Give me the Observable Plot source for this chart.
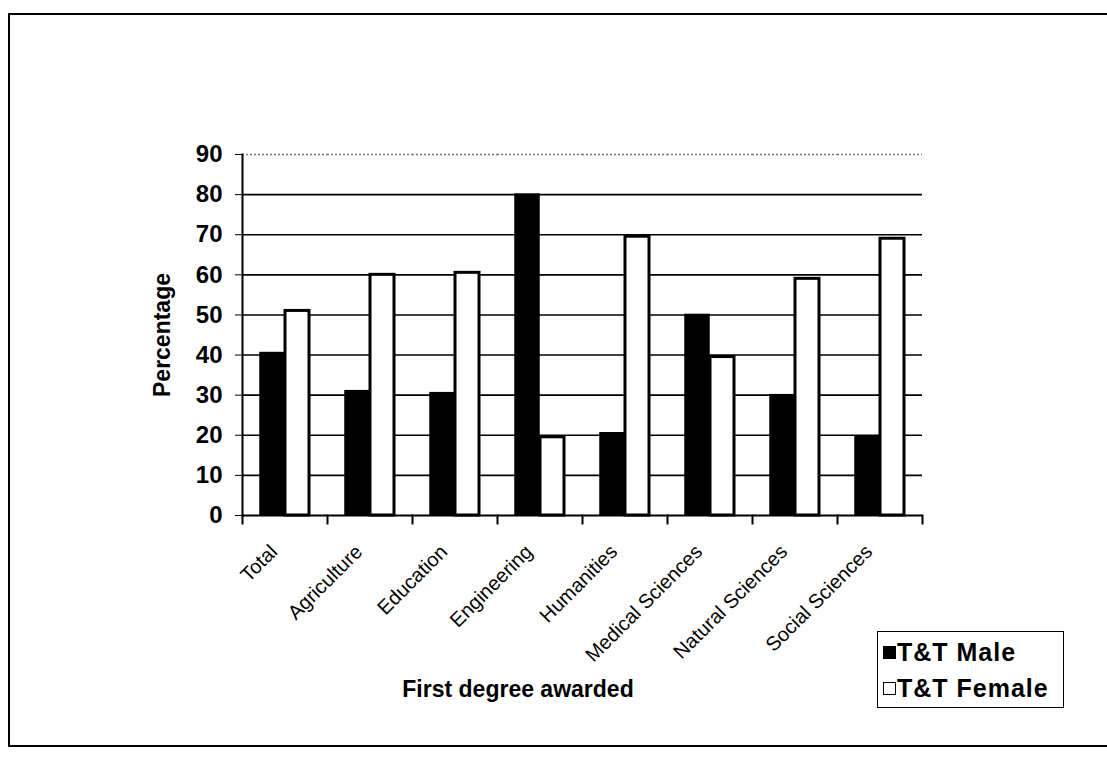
<!DOCTYPE html>
<html>
<head>
<meta charset="utf-8">
<script src="https://cdn.jsdelivr.net/npm/d3@7"></script>
<script src="https://cdn.jsdelivr.net/npm/@observablehq/plot@0.6"></script>
<style>
  html, body { margin: 0; padding: 0; background: #fff; }
  #wrap { position: relative; width: 1107px; height: 760px; overflow: hidden; font-family: "Liberation Sans", Arial, sans-serif; }
  #wrap svg { position: absolute; left: 0; top: 0; }
  .border { position: absolute; background: #000; }
  #xtitle { position: absolute; left: 518px; top: 676px; transform: translateX(-50%); font-weight: bold; font-size: 23px; white-space: nowrap; }
  #legend { position: absolute; left: 877px; top: 631px; width: 185px; height: 75px; border: 1.5px solid #000; background: #fff; }
  .lrow { position: absolute; left: 5px; font-weight: bold; font-size: 25px; line-height: 28px; white-space: nowrap; display: flex; align-items: center; letter-spacing: 1px; }
  .sw { border: 1.5px solid #000; margin-right: 1px; box-sizing: border-box; width: 13px; height: 13px; }
</style>
</head>
<body>
<div id="wrap"></div>
<script>
const categories = ["Total", "Agriculture", "Education", "Engineering", "Humanities", "Medical Sciences", "Natural Sciences", "Social Sciences"];
const series = ["T&T Male", "T&T Female"];
const maleValues = [40.5, 31, 30.5, 80, 20.5, 50, 30, 19.5];
const femaleValues = [51, 60, 60.5, 19.5, 69.5, 39.5, 59, 69];
const yTicks = [0, 10, 20, 30, 40, 50, 60, 70, 80, 90];
const gridLines = [10, 20, 30, 40, 50, 60, 70, 80];
const xTitle = "First degree awarded";
const yTitle = "Percentage";

const data = [];
categories.forEach((c, i) => {
  data.push({category: c, series: series[0], value: maleValues[i]});
  data.push({category: c, series: series[1], value: femaleValues[i]});
});

const font = "'Liberation Sans', Arial, sans-serif";
const plotH = 515 - 154;

const chart = Plot.plot({
  width: 1107,
  height: 760,
  marginLeft: 241,
  marginRight: 185,
  marginTop: 154,
  marginBottom: 245,
  style: {fontFamily: font, background: "transparent", color: "#000"},
  fx: {domain: categories, padding: 0, label: null},
  x: {domain: series, paddingInner: 0.06, paddingOuter: 0.68, axis: null},
  y: {domain: [0, 90], label: null},
  marks: [
    Plot.ruleY(gridLines, {stroke: "#000", strokeWidth: 1.6}),
    Plot.ruleY([90], {stroke: "#777", strokeWidth: 1.4, strokeDasharray: "2,2"}),
    Plot.barY(data.filter(d => d.series === series[0]), {fx: "category", x: "series", y: "value", fill: "#000", stroke: "#000", strokeWidth: 1.5}),
    Plot.barY(data.filter(d => d.series === series[1]), {fx: "category", x: "series", y: "value", fill: "#fff", stroke: "#000", strokeWidth: 3}),
    Plot.ruleY([0], {stroke: "#000", strokeWidth: 2}),
    Plot.frame({anchor: "left", facetAnchor: "left", stroke: "#000", strokeWidth: 2}),
    Plot.frame({anchor: "left", insetTop: plotH, insetBottom: -8, stroke: "#000", strokeWidth: 2}),
    Plot.frame({anchor: "right", facetAnchor: "right", insetTop: plotH, insetBottom: -8, stroke: "#000", strokeWidth: 2}),
    Plot.axisY({
      ticks: yTicks, tickSize: 7, tickPadding: 13, tickFormat: d => d,
      fontSize: 24, fontWeight: "bold",
      label: yTitle, labelAnchor: "center", labelArrow: "none", labelOffset: 89
    }),
    Plot.axisFx({
      anchor: "bottom", tickRotate: -45, tickSize: 0, tickPadding: 33, dx: -11,
      fontSize: 20, label: null
    })
  ]
});

const wrap = document.getElementById("wrap");
wrap.appendChild(chart);
chart.querySelectorAll("g[aria-label='y-axis label'] text").forEach(t => {
  t.setAttribute("font-size", "23");
  t.setAttribute("font-weight", "bold");
});

// outer chart border (top, left, bottom)
function line(l, t, w, h) {
  const d = document.createElement("div");
  d.className = "border";
  Object.assign(d.style, {left: l + "px", top: t + "px", width: w + "px", height: h + "px"});
  wrap.appendChild(d);
}
line(10, 13, 1097, 2);
line(8, 13, 2, 734);
line(8, 745, 1099, 2);

const xt = document.createElement("div");
xt.id = "xtitle";
xt.textContent = xTitle;
wrap.appendChild(xt);

const lg = document.createElement("div");
lg.id = "legend";
series.forEach((s, i) => {
  const row = document.createElement("div");
  row.className = "lrow";
  row.style.top = (i === 0 ? 6 : 42) + "px";
  const sw = document.createElement("span");
  sw.className = "sw";
  sw.style.background = i === 0 ? "#000" : "#fff";
  row.appendChild(sw);
  row.appendChild(document.createTextNode(s));
  lg.appendChild(row);
});
wrap.appendChild(lg);
</script>
</body>
</html>
